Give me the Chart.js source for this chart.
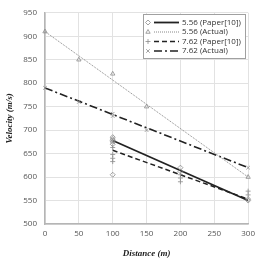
<!DOCTYPE html>
<html><head><meta charset="utf-8">
<script src="https://cdn.jsdelivr.net/npm/chart.js@4"></script>
<style>html,body{margin:0;padding:0;background:#fff}#wrap{width:260px;height:263px}</style>
</head><body><div id="wrap"><canvas id="c" width="260" height="263"></canvas></div>
<script>
// Data
const xTicks = [0, 50, 100, 150, 200, 250, 300];
const yTicks = [500, 550, 600, 650, 700, 750, 800, 850, 900, 950];
const labels = ["5.56 (Paper[10])", "5.56 (Actual)", "7.62 (Paper[10])", "7.62 (Actual)"];

const paper556X = [100, 100, 100, 100, 100, 100, 200, 200, 300, 300];
const paper556Y = [685, 681, 678, 675, 670, 605, 620, 612, 553, 550];
const actual556X = [0, 50, 100, 150, 300];
const actual556Y = [910, 850, 820, 750, 600];
const paper762X = [100, 100, 100, 100, 200, 200, 200, 300, 300];
const paper762Y = [663, 648, 640, 633, 605, 598, 590, 570, 562];
const actual762X = [0, 50, 100, 100, 150, 300];
const actual762Y = [790, 760, 735, 730, 700, 620];

const trend556PaperX = [100, 300];
const trend556PaperY = [678, 550];
const trend556ActualX = [0, 300];
const trend556ActualY = [910, 600];
const trend762PaperX = [100, 300];
const trend762PaperY = [657, 553];
const trend762ActualX = [0, 300];
const trend762ActualY = [790, 620];

const pts = (xs, ys) => xs.map((x, i) => ({x: x, y: ys[i]}));

const markerColor = '#8a8a8a';
const styles = [
  {pointStyle: 'rectRot', line: {color: '#222', width: 1.8, dash: []}},
  {pointStyle: 'triangle', line: {color: '#888', width: 1, dash: [1, 1]}},
  {pointStyle: 'cross', line: {color: '#222', width: 1.5, dash: [5, 3]}},
  {pointStyle: 'crossRot', line: {color: '#222', width: 1.6, dash: [8, 3, 2, 3]}}
];

function markerDs(xs, ys, ps) {
  return {data: pts(xs, ys), showLine: false, pointStyle: ps, pointRadius: 2.5, clip: false,
    borderColor: markerColor, backgroundColor: 'rgba(0,0,0,0)', pointBorderWidth: 0.8};
}
function lineDs(xs, ys, st) {
  return {data: pts(xs, ys), showLine: true, pointRadius: 0, borderColor: st.color,
    borderWidth: st.width, borderDash: st.dash, fill: false};
}

const legendPlugin = {
  id: 'customLegend',
  afterDraw(chart) {
    const ctx = chart.ctx;
    ctx.save();
    ctx.fillStyle = '#fff';
    ctx.fillRect(143, 14, 102, 44);
    ctx.strokeStyle = '#a0a0a0';
    ctx.lineWidth = 1;
    ctx.strokeRect(143.5, 14.5, 102, 44);
    const rows = [22.5, 32, 41.5, 51];
    rows.forEach((y, i) => {
      const st = styles[i];
      ctx.save();
      ctx.setLineDash([]);
      ctx.strokeStyle = markerColor; ctx.fillStyle = 'rgba(0,0,0,0)'; ctx.lineWidth = 0.8;
      Chart.helpers.drawPoint(ctx, {pointStyle: st.pointStyle, radius: 2.5, borderWidth: 0.8}, 148, y);
      ctx.restore();
      ctx.strokeStyle = st.line.color;
      ctx.lineWidth = st.line.width;
      ctx.setLineDash(st.line.dash);
      ctx.beginPath();
      ctx.moveTo(154, y);
      ctx.lineTo(179, y);
      ctx.stroke();
      ctx.setLineDash([]);
      ctx.fillStyle = '#333';
      ctx.font = '8px "Open Sans", "Liberation Sans", sans-serif';
      ctx.textBaseline = 'middle';
      ctx.textAlign = 'left';
      ctx.fillText(labels[i], 182, y);
    });
    ctx.restore();
  }
};

new Chart(document.getElementById('c'), {
  type: 'scatter',
  data: {
    datasets: [
      markerDs(paper556X, paper556Y, 'rectRot'),
      markerDs(actual556X, actual556Y, 'triangle'),
      markerDs(paper762X, paper762Y, 'cross'),
      markerDs(actual762X, actual762Y, 'crossRot'),
      lineDs(trend556PaperX, trend556PaperY, styles[0].line),
      lineDs(trend556ActualX, trend556ActualY, styles[1].line),
      lineDs(trend762PaperX, trend762PaperY, styles[2].line),
      lineDs(trend762ActualX, trend762ActualY, styles[3].line)
    ]
  },
  options: {
    responsive: false,
    animation: false,
    devicePixelRatio: 1,
    layout: {padding: {top: 6, right: 7, left: 0, bottom: 0}},
    plugins: {legend: {display: false}, tooltip: {enabled: false}},
    scales: {
      x: {
        type: 'linear', min: 0, max: 300,
        afterBuildTicks(s) { s.ticks = xTicks.map(v => ({value: v})); },
        afterFit(s) { s.height = 39; },
        grid: {color: '#e2e2e2', lineWidth: 1, drawTicks: false},
        border: {color: '#b5b5b5', width: 1.5},
        ticks: {color: '#555', font: {size: 8, family: '"Open Sans", "Liberation Sans", sans-serif'}, padding: 5, maxRotation: 0},
        title: {display: true, text: 'Distance (m)', color: '#222',
          font: {size: 9, style: 'italic', weight: 'bold', family: '"Liberation Serif", "DejaVu Serif", serif'}, padding: {top: 8}}
      },
      y: {
        type: 'linear', min: 500, max: 950,
        afterBuildTicks(s) { s.ticks = yTicks.map(v => ({value: v})); },
        afterFit(s) { s.width = 45; },
        grid: {color: '#e2e2e2', lineWidth: 1, drawTicks: false},
        border: {color: '#b5b5b5', width: 1.5},
        ticks: {color: '#555', font: {size: 8, family: '"Open Sans", "Liberation Sans", sans-serif'}, padding: 8},
        title: {display: true, text: 'Velocity (m/s)', color: '#222',
          font: {size: 9, style: 'italic', weight: 'bold', family: '"Liberation Serif", "DejaVu Serif", serif'}, padding: {bottom: 2}}
      }
    }
  },
  plugins: [legendPlugin]
});
</script>
</body></html>
